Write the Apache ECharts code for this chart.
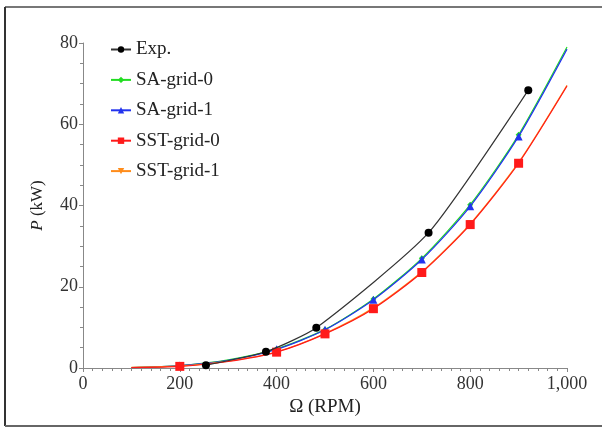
<!DOCTYPE html>
<html lang="en" style="height: 100%">

<head>
  <meta charset="utf-8">
  <title>P vs RPM</title>
  <script src="https://cdn.jsdelivr.net/npm/echarts@6.0.0/dist/echarts.min.js"></script>
</head>

<body style="height: 100%; margin: 0; background: #fff">
  <div id="chart" style="height: 428px; width: 602px"></div>
  <script type="text/javascript">
    // experiment
    const expRpm = [254, 378, 482, 714, 920];
    const expP = [0.7, 4.0, 9.9, 33.3, 68.4];

    // simulations, sampled every 100 RPM
    const simRpm = [100, 200, 300, 400, 500, 600, 700, 800, 900, 1000];
    const saGrid0 = [0.1, 0.6, 2.0, 4.7, 9.5, 17.0, 27.0, 40.2, 57.4, 79.0];
    const saGrid1 = [0.1, 0.6, 1.9, 4.6, 9.4, 16.8, 26.7, 39.8, 57.0, 78.5];
    const sstGrid0 = [0.1, 0.4, 1.6, 3.9, 8.4, 14.6, 23.5, 35.3, 50.4, 69.4];
    const sstGrid1 = [0.15, 0.5, 1.7, 4.0, 8.5, 14.8, 23.7, 35.5, 50.6, 69.6];
    const markedRpm = [200, 400, 500, 600, 700, 800, 900];

    const serif = 'Liberation Serif';

    function simData(vals) {
      return simRpm.map((x, i) => ({
        value: [x, vals[i]],
        symbol: markedRpm.includes(x) ? undefined : 'none'
      }));
    }

    function simSeries(name, vals, color, symbol, size, z) {
      return {
        name: name,
        type: 'line',
        smooth: 0.25,
        symbol: symbol,
        symbolSize: size,
        z: z,
        lineStyle: { color: color, width: 1.2 },
        itemStyle: { color: color },
        data: simData(vals)
      };
    }

    const chart = echarts.init(document.getElementById('chart'));
    chart.setOption({
      animation: false,
      grid: { left: 83, right: 35, top: 43, bottom: 60 },
      graphic: [
        { type: 'line', shape: { x1: 5, y1: 7, x2: 602, y2: 7 }, style: { stroke: '#777', lineWidth: 2 } },
        { type: 'line', shape: { x1: 5, y1: 7, x2: 5, y2: 426 }, style: { stroke: '#333', lineWidth: 2 } },
        { type: 'line', shape: { x1: 5, y1: 426, x2: 602, y2: 426 }, style: { stroke: '#666', lineWidth: 2 } }
      ],
      legend: {
        orient: 'vertical',
        left: 110,
        top: 40,
        padding: 0,
        itemWidth: 20,
        itemHeight: 8,
        itemGap: 11.4,
        textStyle: { fontFamily: serif, fontSize: 19, lineHeight: 19, color: '#222' },
        data: ['Exp.', 'SA-grid-0', 'SA-grid-1', 'SST-grid-0', 'SST-grid-1']
      },
      xAxis: {
        type: 'value',
        min: 0,
        max: 1000,
        interval: 200,
        name: 'Ω (RPM)',
        nameLocation: 'middle',
        nameGap: 27,
        nameTextStyle: { fontFamily: serif, fontSize: 19, color: '#222' },
        axisLine: { lineStyle: { color: '#888' } },
        axisTick: { length: 4, lineStyle: { color: '#888' } },
        minorTick: { show: true, splitNumber: 10, length: 3, lineStyle: { color: '#888' } },
        axisLabel: {
          fontFamily: serif, fontSize: 18, color: '#333', margin: 7,
          formatter: v => v === 1000 ? '1,000' : String(v)
        },
        splitLine: { show: false }
      },
      yAxis: {
        type: 'value',
        min: 0,
        max: 80,
        interval: 20,
        name: '{i|P} (kW)',
        nameLocation: 'middle',
        nameGap: 37,
        nameTextStyle: {
          fontFamily: serif, fontSize: 17, color: '#222',
          rich: { i: { fontFamily: serif, fontSize: 17, fontStyle: 'italic', color: '#222' } }
        },
        axisLine: { show: true, lineStyle: { color: '#888' } },
        axisTick: { show: true, length: 4, lineStyle: { color: '#888' } },
        minorTick: { show: true, splitNumber: 4, length: 3, lineStyle: { color: '#888' } },
        axisLabel: { fontFamily: serif, fontSize: 18, color: '#333', margin: 5 },
        splitLine: { show: false }
      },
      series: [
        {
          name: 'Exp.',
          type: 'line',
          smooth: 0.2,
          symbol: 'circle',
          symbolSize: 8,
          z: 6,
          lineStyle: { color: '#333', width: 1.2 },
          itemStyle: { color: '#000' },
          data: expRpm.map((x, i) => [x, expP[i]])
        },
        simSeries('SA-grid-0', saGrid0, '#22dd22', 'diamond', 6, 2),
        simSeries('SA-grid-1', saGrid1, '#2233ee', 'triangle', 8, 3),
        simSeries('SST-grid-0', sstGrid0, '#ff1a1a', 'rect', 9, 5),
        simSeries('SST-grid-1', sstGrid1, '#ff8c1a', 'path://M0,0 L10,0 L5,9 Z', 7, 4)
      ]
    });
  </script>
</body>

</html>
